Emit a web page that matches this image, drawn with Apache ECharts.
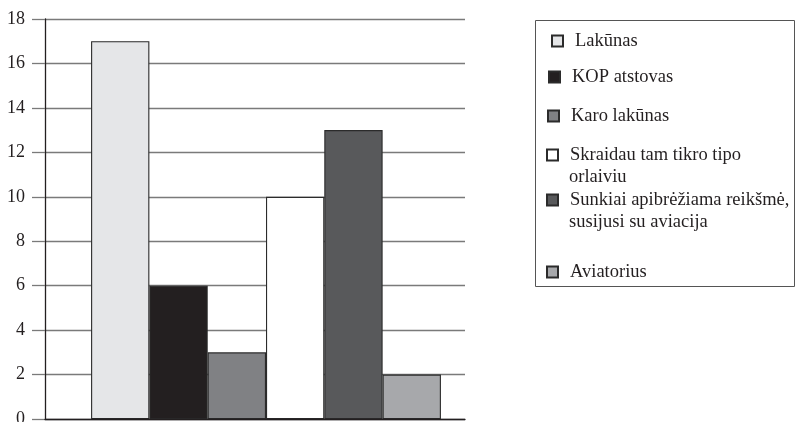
<!DOCTYPE html>
<html>
<head>
<meta charset="utf-8">
<script src="https://cdn.jsdelivr.net/npm/echarts@6/dist/echarts.min.js"></script>
<style>html,body{margin:0;padding:0;background:#fff}#c{width:796px;height:422px}</style>
</head>
<body>
<div id="c"></div>
<script>
var categories = [''];
var seriesNames = ['Lakūnas', 'KOP atstovas', 'Karo lakūnas', 'Skraidau tam tikro tipo orlaiviu', 'Sunkiai apibrėžiama reikšmė, susijusi su aviacija', 'Aviatorius'];
var legendFirstLines = ['Lakūnas', 'KOP atstovas', 'Karo lakūnas', 'Skraidau tam tikro tipo', 'Sunkiai apibrėžiama reikšmė,', 'Aviatorius'];
var legendSecondLines = ['', '', '', 'orlaiviu', 'susijusi su aviacija', ''];
var seriesValues = [17, 6, 3, 10, 13, 2];
var seriesColors = ['#e5e6e8', '#231f20', '#808184', '#ffffff', '#58595b', '#a7a8ab'];
var yTicks = [0, 2, 4, 6, 8, 10, 12, 14, 16, 18];

var FONT = 'Liberation Serif';
var legendCenters = [41, 77, 116, 155, 200, 272];
var legendLefts = [551, 548, 547, 546, 546, 546];

var chart = echarts.init(document.getElementById('c'), null, {renderer: 'canvas'});

var series = seriesNames.map(function (n, i) {
  return {
    name: n,
    type: 'bar',
    xAxisIndex: 1,
    yAxisIndex: 1,
    data: [seriesValues[i]],
    barGap: '0%',
    barCategoryGap: '16.7%',
    itemStyle: {color: seriesColors[i], borderColor: '#2b2b2b', borderWidth: 1.1},
    emphasis: {disabled: true}
  };
});

var legends = seriesNames.map(function (n, i) {
  return {
    show: true,
    data: [n],
    orient: 'vertical',
    left: legendLefts[i],
    top: legendCenters[i] - 10,
    padding: 0,
    itemWidth: 11,
    itemHeight: 11,
    icon: 'rect',
    selectedMode: false,
    formatter: function () { return legendFirstLines[i]; },
    textStyle: {fontFamily: FONT, fontSize: 18.5, color: '#231f20', lineHeight: 20, padding: [0, 0, 0, 7]}
  };
});

var graphics = [{
  type: 'rect',
  shape: {x: 535.5, y: 20.5, width: 259, height: 266},
  style: {fill: 'none', stroke: '#555', lineWidth: 1},
  z: 0
}];
legendSecondLines.forEach(function (t, i) {
  if (!t) return;
  graphics.push({
    type: 'text',
    left: legendLefts[i] + 23,
    top: legendCenters[i] + 22 - 10,
    style: {text: t, fontFamily: FONT, fontSize: 18.5, fill: '#231f20', lineHeight: 20}
  });
});

var yMin = yTicks[0], yMax = yTicks[yTicks.length - 1];

chart.setOption({
  animation: false,
  grid: [
    {left: 45, right: 331, top: 19, bottom: 3, containLabel: false, outerBoundsMode: 'none'},
    {left: 56, right: 320, top: 19, bottom: 3, containLabel: false, outerBoundsMode: 'none'}
  ],
  legend: legends,
  graphic: graphics,
  xAxis: [{
    type: 'category',
    gridIndex: 0,
    data: categories,
    z: 5,
    axisLine: {show: true, lineStyle: {color: '#231f20', width: 1.3}},
    axisTick: {show: false},
    axisLabel: {show: false},
    splitLine: {show: false}
  }, {
    type: 'category',
    gridIndex: 1,
    data: categories,
    show: false
  }],
  yAxis: [{
    type: 'value',
    gridIndex: 0,
    min: yMin,
    max: yMax,
    interval: 2,
    axisLine: {show: true, lineStyle: {color: '#231f20', width: 1.3}},
    axisTick: {show: true, length: 13, lineStyle: {color: '#7a7a7a', width: 1.3}},
    axisLabel: {fontFamily: FONT, fontSize: 18, color: '#231f20', margin: 20},
    splitLine: {show: true, lineStyle: {color: '#7a7a7a', width: 1.3}}
  }, {
    type: 'value',
    gridIndex: 1,
    min: yMin,
    max: yMax,
    interval: 2,
    show: false,
    splitLine: {show: false}
  }],
  series: series
});
</script>
</body>
</html>
